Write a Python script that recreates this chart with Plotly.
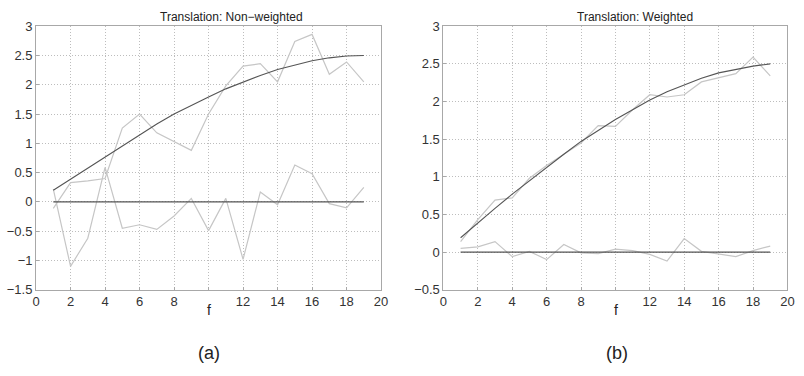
import plotly.graph_objects as go

f = list(range(1, 20))

# Left panel: Translation, non-weighted
true_a = [0.20, 0.39, 0.58, 0.77, 0.96, 1.15, 1.33, 1.50, 1.65, 1.79, 1.93, 2.05, 2.16, 2.26, 2.34, 2.41, 2.46, 2.49, 2.50]
est_a = [-0.11, 0.33, 0.36, 0.40, 1.26, 1.50, 1.18, 1.03, 0.88, 1.50, 1.98, 2.32, 2.36, 2.05, 2.74, 2.86, 2.18, 2.39, 2.05]
err_a = [0.22, -1.10, -0.62, 0.59, -0.45, -0.39, -0.47, -0.24, 0.06, -0.49, 0.06, -0.98, 0.17, -0.05, 0.63, 0.48, -0.03, -0.10, 0.25]

# Right panel: Translation, weighted
true_b = [0.19, 0.39, 0.58, 0.77, 0.95, 1.13, 1.30, 1.47, 1.62, 1.76, 1.89, 2.02, 2.13, 2.22, 2.31, 2.38, 2.43, 2.47, 2.50]
est_b = [0.14, 0.43, 0.69, 0.72, 0.98, 1.15, 1.30, 1.45, 1.68, 1.67, 1.89, 2.09, 2.06, 2.09, 2.26, 2.32, 2.37, 2.59, 2.34]
err_b = [0.05, 0.07, 0.14, -0.06, 0.01, -0.10, 0.10, -0.01, -0.02, 0.04, 0.02, -0.03, -0.12, 0.18, 0.01, -0.03, -0.06, 0.02, 0.08]
zero = [0.0] * 19

x_ticks = [0, 2, 4, 6, 8, 10, 12, 14, 16, 18, 20]
x_ticktext = ["0", "2", "4", "6", "8", "", "12", "14", "16", "18", "20"]
ya_ticks = [-1.5, -1, -0.5, 0, 0.5, 1, 1.5, 2, 2.5, 3]
yb_ticks = [-0.5, 0, 0.5, 1, 1.5, 2, 2.5, 3]

W, H = 804, 376
DARK = "#555555"
LIGHT = "#c6c6c6"
FONT = "Liberation Sans, Arial, Helvetica, sans-serif"

fig = go.Figure()

def add_panel(xa, ya, true, est, err):
    for ys, col, w in [(est, LIGHT, 1.2), (err, LIGHT, 1.2), (zero, DARK, 1.1), (true, DARK, 1.1)]:
        fig.add_trace(go.Scatter(x=f, y=ys, mode="lines", line=dict(color=col, width=w),
                                 xaxis=xa, yaxis=ya, showlegend=False, hoverinfo="skip"))

add_panel("x", "y", true_a, est_a, err_a)
add_panel("x2", "y2", true_b, est_b, err_b)

ytop = 1 - 20 / H
ybot = 1 - 294.5 / H

axis_common = dict(showline=True, mirror=True, linecolor="#a8a8a8", linewidth=1,
                   showgrid=True, gridcolor="#bdbdbd", griddash="1px,2px", gridwidth=1,
                   zeroline=False, ticks="inside", ticklen=3, tickcolor="#a8a8a8",
                   tickfont=dict(family=FONT, size=13, color="#333333"))

fig.update_layout(
    width=W, height=H,
    margin=dict(l=0, r=0, t=0, b=0),
    paper_bgcolor="white", plot_bgcolor="white",
    xaxis=dict(domain=[32.5 / W, 382.3 / W], range=[0, 20], tickvals=x_ticks, ticktext=x_ticktext,
               anchor="y", **axis_common),
    yaxis=dict(domain=[ybot, ytop], range=[-1.5, 3], tickvals=ya_ticks,
               ticktext=[str(v).replace("-", "\u2212") for v in ya_ticks], anchor="x", **axis_common),
    xaxis2=dict(domain=[445.5 / W, 794.3 / W], range=[0, 20], tickvals=x_ticks, ticktext=x_ticktext,
                anchor="y2", **axis_common),
    yaxis2=dict(domain=[ybot, ytop], range=[-0.5, 3], tickvals=yb_ticks,
                ticktext=[str(v).replace("-", "\u2212") for v in yb_ticks], anchor="x2", **axis_common),
)

def px_ann(text, x, y, size):
    fig.add_annotation(text=text, x=x / W, y=1 - y / H, xref="paper", yref="paper",
                       xanchor="center", yanchor="middle",
                       showarrow=False, font=dict(family=FONT, size=size, color="#222222"))

px_ann("Translation: Non\u2212weighted", 231, 10, 12)
px_ann("Translation: Weighted", 640, 10, 12)
px_ann("f", 208, 316, 14)
px_ann("f", 620, 316, 14)
px_ann("(a)", 208, 360, 18)
px_ann("(b)", 621, 360, 18)

fig.write_html("out.html")
